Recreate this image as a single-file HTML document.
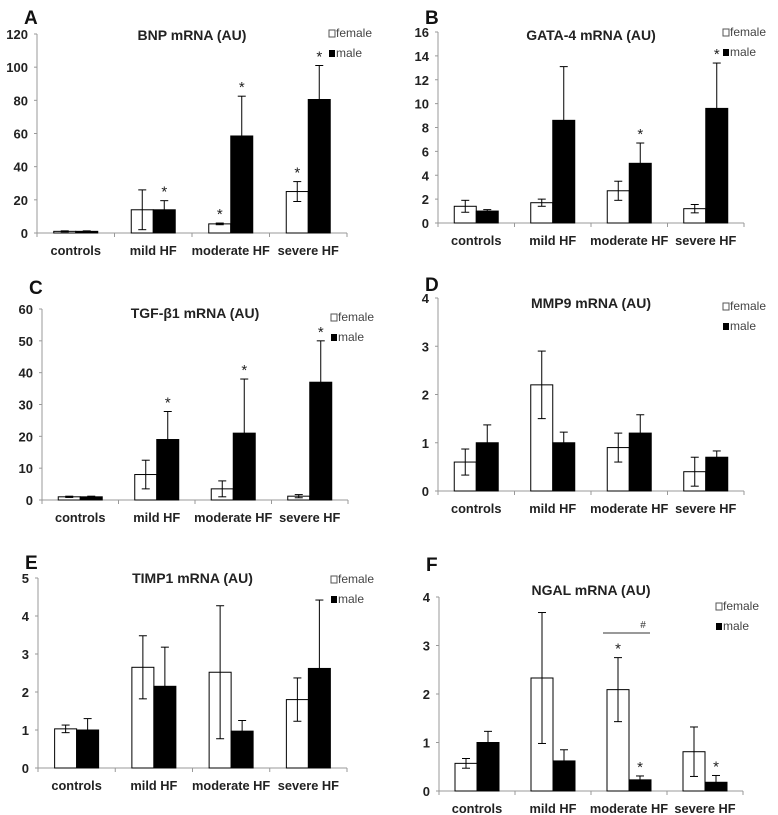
<!DOCTYPE html>
<html><head><meta charset="utf-8"><style>
body{margin:0;background:#fff;}
svg{display:block;font-family:"Liberation Sans",Arial,sans-serif;}
</style></head><body>
<svg id="c" width="778" height="815" viewBox="0 0 778 815" xmlns="http://www.w3.org/2000/svg"></svg>
<script>
const categories=["controls","mild HF","moderate HF","severe HF"];
const femaleA=[1,14,5.5,25], femaleErrA=[0.3,12,0.5,6], maleA=[1,14,58.5,80.5], maleErrA=[0.3,5.5,24,20.5];
const femaleB=[1.4,1.7,2.7,1.2], femaleErrB=[0.5,0.3,0.8,0.35], maleB=[1,8.6,5,9.6], maleErrB=[0.12,4.5,1.7,3.8];
const femaleC=[1,8,3.5,1.2], femaleErrC=[0.2,4.5,2.5,0.5], maleC=[1,19,21,37], maleErrC=[0.2,8.8,17,13];
const femaleD=[0.6,2.2,0.9,0.4], femaleErrD=[0.27,0.7,0.3,0.3], maleD=[1,1,1.2,0.7], maleErrD=[0.37,0.22,0.38,0.13];
const femaleE=[1.03,2.65,2.52,1.8], femaleErrE=[0.1,0.83,1.75,0.57], maleE=[1,2.15,0.97,2.62], maleErrE=[0.3,1.03,0.28,1.8];
const femaleF=[0.57,2.33,2.09,0.81], femaleErrF=[0.1,1.35,0.66,0.51], maleF=[1,0.62,0.23,0.18], maleErrF=[0.23,0.23,0.08,0.14];
const starsFA=[0,0,1,1], starsMA=[0,1,1,1];
const starsFB=[0,0,0,0], starsMB=[0,0,1,1];
const starsFC=[0,0,0,0], starsMC=[0,1,1,1];
const starsFF=[0,0,1,0], starsMF=[0,0,1,1];
const none=[0,0,0,0];
const panels=[
 {id:"a",label:"A",title:"BNP mRNA (AU)",ax:37,x1:347,y0:233,yt:34,max:120,step:20,ly:8,ty:40,lgx:336,lgy:37,f:femaleA,fe:femaleErrA,m:maleA,me:maleErrA,sf:starsFA,sm:starsMA},
 {id:"b",label:"B",title:"GATA-4 mRNA (AU)",ax:438,x1:744,y0:223,yt:32,max:16,step:2,ly:8,ty:40,lgx:730,lgy:36,f:femaleB,fe:femaleErrB,m:maleB,me:maleErrB,sf:starsFB,sm:starsMB},
 {id:"c",label:"C",title:"TGF-β1 mRNA (AU)",ax:42,x1:348,y0:500,yt:309,max:60,step:10,ly:278,ty:318,lgx:338,lgy:321,f:femaleC,fe:femaleErrC,m:maleC,me:maleErrC,sf:starsFC,sm:starsMC},
 {id:"d",label:"D",title:"MMP9 mRNA (AU)",ax:438,x1:744,y0:491,yt:298,max:4,step:1,ly:275,ty:308,lgx:730,lgy:310,f:femaleD,fe:femaleErrD,m:maleD,me:maleErrD,sf:none,sm:none},
 {id:"e",label:"E",title:"TIMP1 mRNA (AU)",ax:38,x1:347,y0:768,yt:578,max:5,step:1,ly:553,ty:583,lgx:338,lgy:583,f:femaleE,fe:femaleErrE,m:maleE,me:maleErrE,sf:none,sm:none},
 {id:"f",label:"F",title:"NGAL mRNA (AU)",ax:439,x1:743,y0:791,yt:597,max:4,step:1,ly:555,ty:595,lgx:723,lgy:610,f:femaleF,fe:femaleErrF,m:maleF,me:maleErrF,sf:starsFF,sm:starsMF}
];
const svg=document.getElementById('c');
const NS="http://www.w3.org/2000/svg";
function mk(tag,at,parent,txt){const e=document.createElementNS(NS,tag);for(const k in at)e.setAttribute(k,at[k]);if(txt!==undefined)e.textContent=txt;parent.appendChild(e);return e;}
panels.forEach(p=>{
 const g=mk('g',{},svg);
 
 
 const y=v=>p.y0-(v/p.max)*(p.y0-p.yt);
 const cw=(p.x1-p.ax)/4;
 const cx=i=>p.ax+cw*(i+0.5);
 let t=mk('text',{x:p.ax-13,y:p.ly+16,'font-size':19,'font-weight':'bold',fill:'#111'},g,p.label);
 
 
 t=mk('text',{x:(p.ax+p.x1)/2,y:p.ty,'font-size':14,'font-weight':'bold','text-anchor':'middle',fill:'#222'},g,p.title);
 
 
 let l=mk('line',{x1:p.ax,y1:p.yt,x2:p.ax,y2:p.y0,stroke:'#999','stroke-width':1},g);
 
 
 l=mk('line',{x1:p.ax,y1:p.y0,x2:p.x1,y2:p.y0,stroke:'#999','stroke-width':1},g);
 
 
 for(let v=0;v<=p.max+1e-9;v+=p.step){
  mk('line',{x1:p.ax-3,y1:y(v),x2:p.ax,y2:y(v),stroke:'#999'},g);
  t=mk('text',{x:p.ax-9,y:y(v)+5,'font-size':13,'font-weight':'bold','text-anchor':'end',fill:'#222'},g,String(v));
  
  
 }
 for(let i=0;i<=4;i++) mk('line',{x1:p.ax+cw*i,y1:p.y0,x2:p.ax+cw*i,y2:p.y0+4,stroke:'#999'},g);
 categories.forEach((c,i)=>{
  t=mk('text',{x:cx(i),y:p.y0+22,'font-size':12.8,'font-weight':'bold','text-anchor':'middle',fill:'#222'},g,c);
  
  
  const bw=22;
  [[p.f,p.fe,p.sf,'#fff',-bw,'female'],[p.m,p.me,p.sm,'#000',0,'male']].forEach(s=>{
   const v=s[0][i],e=s[1][i],bx=cx(i)+s[4],mid=bx+bw/2;
   const r=mk('rect',{x:bx,y:y(v),width:bw,height:p.y0-y(v),fill:s[3],stroke:'#000','stroke-width':1},g);
   
   
   const eg=mk('g',{stroke:'#000','stroke-width':1},g);
   
   
   mk('line',{x1:mid,y1:y(v+e),x2:mid,y2:Math.min(p.y0,y(v-e))},eg);
   mk('line',{x1:mid-4,y1:y(v+e),x2:mid+4,y2:y(v+e)},eg);
   if(v-e>0) mk('line',{x1:mid-4,y1:y(v-e),x2:mid+4,y2:y(v-e)},eg);
   if(s[2][i]){
    const st=mk('text',{x:mid,y:y(v+e)-4,'font-size':15,'text-anchor':'middle',fill:'#222'},g,'*');
    
    
   }
  });
 });
 const lg=mk('g',{},g);
 
 
 mk('rect',{x:p.lgx-7,y:p.lgy-7,width:6,height:7,fill:'#fff',stroke:'#555'},lg);
 mk('text',{x:p.lgx,y:p.lgy,'font-size':12,fill:'#444'},lg,'female');
 mk('rect',{x:p.lgx-7,y:p.lgy+13,width:6,height:7,fill:'#000'},lg);
 mk('text',{x:p.lgx,y:p.lgy+20,'font-size':12,fill:'#444'},lg,'male');
});
const br=mk('g',{},svg);


mk('line',{x1:603,y1:633,x2:650,y2:633,stroke:'#333'},br);
mk('text',{x:643,y:628,'font-size':10,'text-anchor':'middle',fill:'#333'},br,'#');
</script>
</body></html>
